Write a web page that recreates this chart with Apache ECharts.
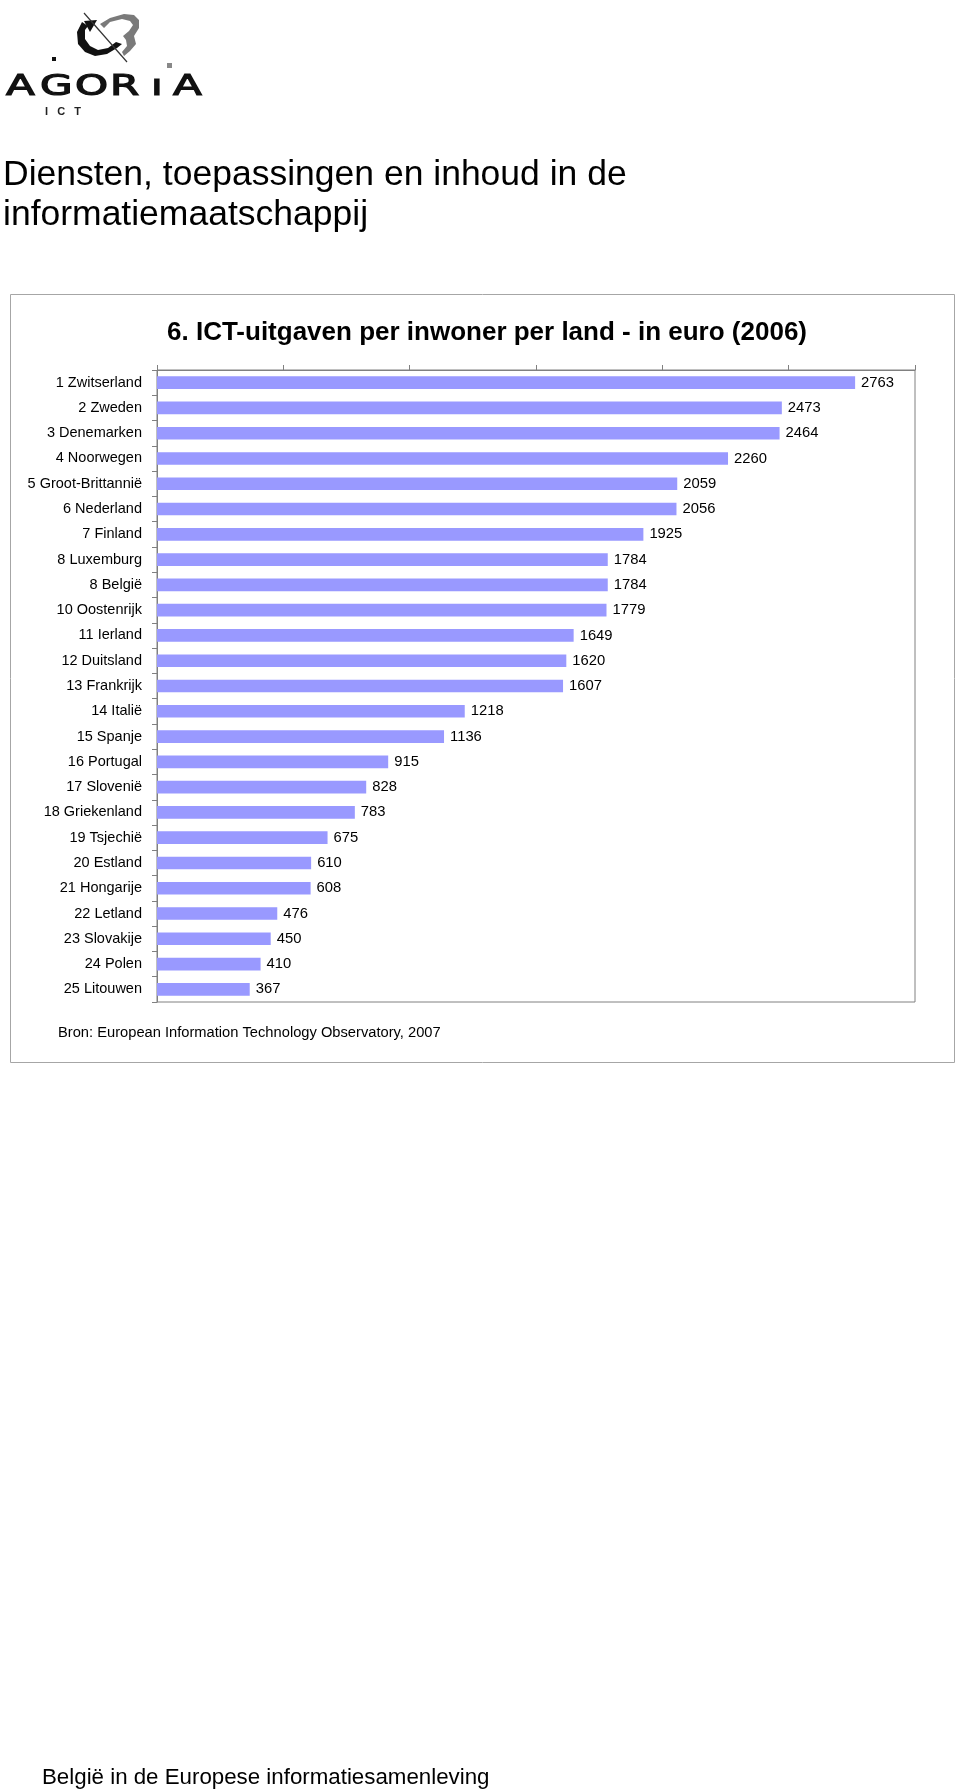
<!DOCTYPE html>
<html>
<head>
<meta charset="utf-8">
<script src="https://cdn.jsdelivr.net/npm/echarts@6/dist/echarts.min.js"></script>
<style>
html,body{margin:0;padding:0;background:#fff;}
#chart{width:960px;height:1791px;}
</style>
</head>
<body>
<div id="chart"></div>
<script>
const countries = ['1 Zwitserland','2 Zweden','3 Denemarken','4 Noorwegen','5 Groot-Brittannië','6 Nederland','7 Finland','8 Luxemburg','8 België','10 Oostenrijk','11 Ierland','12 Duitsland','13 Frankrijk','14 Italië','15 Spanje','16 Portugal','17 Slovenië','18 Griekenland','19 Tsjechië','20 Estland','21 Hongarije','22 Letland','23 Slovakije','24 Polen','25 Litouwen'];
const spending = [2763,2473,2464,2260,2059,2056,1925,1784,1784,1779,1649,1620,1607,1218,1136,915,828,783,675,610,608,476,450,410,367];
const axisMin = 0, axisMax = 3000, axisStep = 500;

const FONT = '"Liberation Sans", Arial, sans-serif';
const chart = echarts.init(document.getElementById('chart'), null, {renderer:'canvas'});

const logoLetters = [
  {t:'A', x:6}, {t:'G', x:40}, {t:'O', x:75}, {t:'R', x:110}, {t:'ı', x:151}, {t:'A', x:173}
];

const graphics = [
  {type:'rect', shape:{x:10.5, y:294.5, width:944, height:768}, style:{fill:'none', stroke:'#a6a6a6', lineWidth:1}, z:0},
  {type:'text', x:3, y:157, style:{text:'Diensten, toepassingen en inhoud in de', font:'35.5px ' + FONT, fill:'#000'}},
  {type:'text', x:3, y:197, style:{text:'informatiemaatschappij', font:'35.5px ' + FONT, fill:'#000'}},
  {type:'text', x:58, y:1025, style:{text:'Bron: European Information Technology Observatory, 2007', font:'14.7px ' + FONT, fill:'#000'}},
  {type:'text', x:42, y:1767, style:{text:'België in de Europese informatiesamenleving', font:'22.3px ' + FONT, fill:'#000'}},
  {type:'polygon', shape:{points:[[82,22],[77,32],[78,44],[85,52],[95,56],[107,54],[117,48],[122,44],[116,42],[108,48],[98,50],[90,46],[85,39],[85,30],[88,26]]}, style:{fill:'#111'}},
  {type:'polygon', shape:{points:[[84,21],[97,20],[90,32]]}, style:{fill:'#111'}},
  {type:'polygon', shape:{points:[[100,24],[110,18],[124,14],[134,15],[139,20],[139,28],[134,36],[136,44],[130,51],[124,56],[122,52],[127,46],[126,40],[123,36],[129,31],[133,25],[130,21],[122,19],[110,22],[104,28]]}, style:{fill:'#7a7a7a'}},
  {type:'line', shape:{x1:84, y1:13, x2:127, y2:62}, style:{stroke:'#333', lineWidth:1.2}},
  {type:'rect', shape:{x:52, y:57, width:4, height:4}, style:{fill:'#111'}},
  {type:'rect', shape:{x:167, y:63, width:5, height:5}, style:{fill:'#888'}},
  {type:'text', x:45, y:106, style:{text:'I   C   T', font:'bold 11px ' + FONT, fill:'#222'}}
];
logoLetters.forEach(l => {
  graphics.push({type:'text', x:l.x, y:73, scaleX:1.45, style:{text:l.t, font:'29px "DejaVu Sans", ' + FONT, fill:'#111', stroke:'#111', lineWidth:1.2}});
});

chart.setOption({
  animation:false,
  backgroundColor:'#fff',
  title:{
    text:'6. ICT-uitgaven per inwoner per land - in euro (2006)',
    left:482, top:315, textAlign:'center',
    textStyle:{fontFamily:FONT, fontWeight:'bold', fontSize:26, color:'#000'}
  },
  grid:{left:157, top:370, right:45, bottom:789, show:true, borderColor:'#808080', borderWidth:1, backgroundColor:'transparent'},
  xAxis:{
    type:'value', position:'top', min:axisMin, max:axisMax, interval:axisStep,
    axisLine:{show:true, lineStyle:{color:'#808080'}},
    axisTick:{show:true, inside:false, length:5, lineStyle:{color:'#808080'}},
    axisLabel:{show:false},
    splitLine:{show:false}
  },
  yAxis:{
    type:'category', data:countries, inverse:true,
    axisLine:{show:true, lineStyle:{color:'#808080'}},
    axisTick:{show:true, inside:false, length:5, lineStyle:{color:'#808080'}},
    axisLabel:{margin:15, fontFamily:FONT, fontSize:14.5, color:'#000'},
    splitLine:{show:false}
  },
  series:[{
    type:'bar', data:spending, barCategoryGap:'50%',
    itemStyle:{color:'#9999ff'},
    label:{show:true, position:'right', distance:6, fontFamily:FONT, fontSize:14.8, color:'#000'}
  }],
  graphic:graphics
});
</script>
</body>
</html>
